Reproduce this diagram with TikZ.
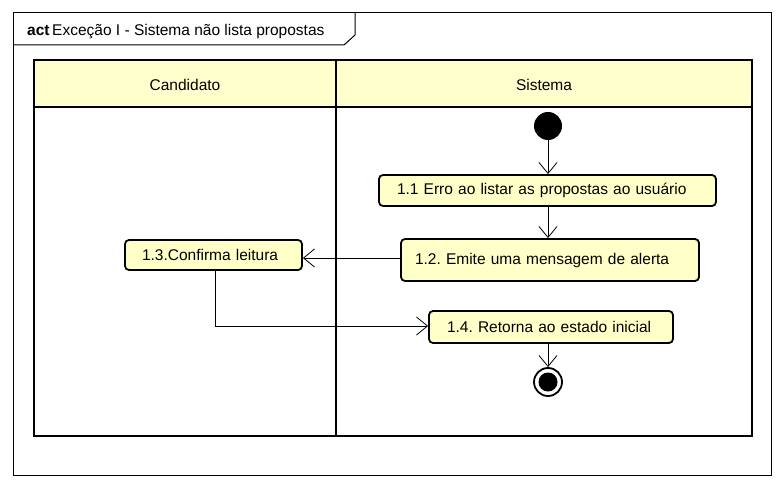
\documentclass[tikz,border=0pt]{standalone}
\usepackage{fontspec}
\setmainfont{Liberation Sans}
\usepackage{xcolor}
\usetikzlibrary{arrows.meta, positioning, calc}
\definecolor{laneyellow}{RGB}{255, 255, 206}
\definecolor{actyellow}{RGB}{255, 255, 200}
\frenchspacing

\tikzset{
  lane/.style={draw=black, line width=2pt},
  actbox/.style={draw=black, fill=actyellow, line width=1.8pt, rounded corners=4pt,
                 inner sep=0pt, align=left, font=\fontsize{15.5}{17}\selectfont},
  flow/.style={draw=black, line width=0.8pt, -{Straight Barb[length=11pt, width=18pt, line width=0.8pt]}},
}

\begin{document}
\begin{tikzpicture}[x=1pt, y=-1pt, font=\fontsize{15.5}{17}\selectfont]

\useasboundingbox (0,0) rectangle (784,489);

% frame and title tab
\draw[line width=1pt] (13,13) rectangle (771,475);
\draw[line width=1pt] (13,45) -- (344,45) -- (355,35) -- (355,13);
\node[anchor=base west, inner sep=0pt] (title) at (27,36)
  {\textbf{act}\,Exceção I - Sistema não lista propostas};

% swimlanes
\fill[laneyellow] (34,60) rectangle (752,107);
\draw[lane] (34,60) rectangle (752,436);
\draw[lane] (34,107) -- (752,107);
\draw[lane] (336,60) -- (336,436);
\node (candidato) at (185,85) {Candidato};
\node (sistema) at (544,85) {Sistema};

% initial and final nodes
\node[circle, fill=black, minimum size=28pt, inner sep=0pt] (start) at (548,126) {};
\node[circle, draw=black, line width=1.8pt, minimum size=28pt, inner sep=0pt] (stop) at (548,382) {};
\node[circle, fill=black, minimum size=19pt, inner sep=0pt] (stopdot) at (548,382) {};

% activities
\node[actbox, minimum width=337pt, minimum height=31pt, text width=301pt] (erro) at (547.5,190.5)
  {1.1 Erro ao listar as propostas ao usuário};
\node[actbox, minimum width=298pt, minimum height=42pt, text width=270pt] (emite) at (550,260)
  {1.2. Emite uma mensagem de alerta};
\node[actbox, minimum width=177pt, minimum height=30pt, text width=143pt] (confirma) at (213.5,255)
  {1.3.Confirma leitura};
\node[actbox, minimum width=244pt, minimum height=32pt, text width=208pt] (retorna) at (551,327)
  {1.4. Retorna ao estado inicial};

% control flows
\draw[flow] (start) -- (start |- erro.north);
\draw[flow] (erro.south -| start) -- (emite.north -| start);
\draw[flow] (emite.west |- 0,258) -- (confirma.east |- 0,258);
\draw[flow] (confirma.south -| 215,0) -- (215,326) -- (retorna.west |- 0,326);
\draw[flow] (retorna.south -| start) -- (stop.north);

\end{tikzpicture}
\end{document}
